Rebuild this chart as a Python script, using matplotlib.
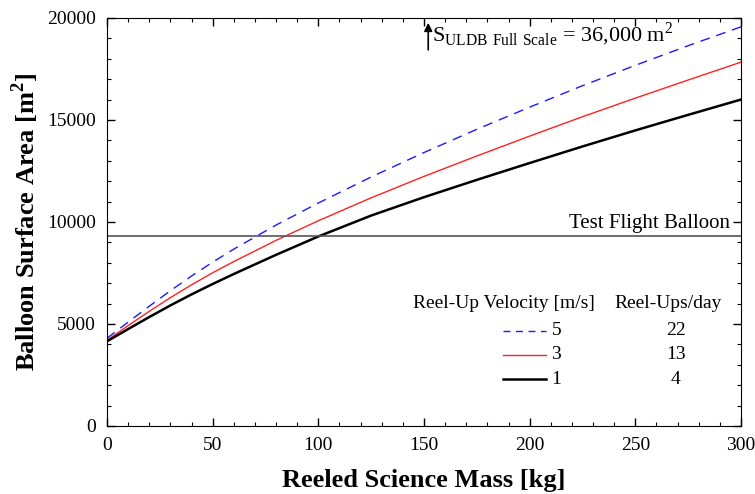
import matplotlib
matplotlib.use("Agg")
import matplotlib.pyplot as plt
from matplotlib.ticker import MultipleLocator
from matplotlib.lines import Line2D

plt.rcParams['font.family'] = ['Liberation Serif', 'DejaVu Serif']
plt.rcParams['mathtext.fontset'] = 'custom'
plt.rcParams['mathtext.rm'] = 'Liberation Serif'
plt.rcParams['mathtext.bf'] = 'Liberation Serif:bold'

# reeled science mass [kg]
mass = [0, 10, 20, 30, 40, 50, 60, 80, 100, 125, 150, 175, 200, 225, 250, 275, 300]
# balloon surface area [m^2] per reel-up velocity
area_v5 = [4300, 5090, 5870, 6630, 7350, 8030, 8670, 9850, 10930, 12205, 13405, 14543, 15630, 16680, 17680, 18642, 19567]
area_v3 = [4200, 4920, 5620, 6290, 6920, 7510, 8060, 9100, 10060, 11185, 12235, 13235, 14210, 15160, 16072, 16960, 17835]
area_v1 = [4150, 4750, 5340, 5910, 6450, 6960, 7450, 8390, 9290, 10315, 11215, 12065, 12890, 13702, 14490, 15252, 16002]

velocities = ["5", "3", "1"]
reelups = ["22", "13", "4"]
test_flight = 9300
full_scale_mass = 152

fig = plt.figure(figsize=(7.55, 4.94), dpi=100)
ax = fig.add_axes([0.1417, 0.1377, 0.8398, 0.8259])

l5, = ax.plot(mass, area_v5, color='#1a1aff', lw=1.0, dashes=(7, 5))
l3, = ax.plot(mass, area_v3, color='#ff2020', lw=1.0)
l1, = ax.plot(mass, area_v1, color='black', lw=1.8)

ax.axhline(test_flight, color='#555555', lw=1.2)
ax.text(295, test_flight + 150, 'Test Flight Balloon', ha='right', va='bottom', fontsize=15)

ax.annotate('', xy=(full_scale_mass, 19900), xytext=(full_scale_mass, 18300),
            arrowprops=dict(arrowstyle='-|>', color='black', lw=1.2, mutation_scale=12))
ax.text(full_scale_mass + 2, 18550, r'S$_{\mathrm{ULDB\ Full\ Scale}}$ = 36,000 m$^{2}$',
        ha='left', va='bottom', fontsize=16)

# legend drawn as a small table
ax.text(0.483, 0.301, 'Reel-Up Velocity [m/s]', transform=ax.transAxes, ha='left', va='center', fontsize=14)
ax.text(0.800, 0.301, 'Reel-Ups/day', transform=ax.transAxes, ha='left', va='center', fontsize=14)
rows_y = [0.233, 0.174, 0.115]
for line, vel, n, yy in zip([l5, l3, l1], velocities, reelups, rows_y):
    seg = Line2D([0.625, 0.692], [yy, yy], transform=ax.transAxes, color=line.get_color(),
                 lw=line.get_linewidth())
    if vel == "5":
        seg.set_dashes((5, 4))
    ax.add_line(seg)
    ax.text(0.701, yy, vel, transform=ax.transAxes, ha='left', va='center', fontsize=14)
    ax.text(0.897, yy, n, transform=ax.transAxes, ha='center', va='center', fontsize=14)

ax.set_xlim(0, 300)
ax.set_ylim(0, 20000)
ax.xaxis.set_major_locator(MultipleLocator(50))
ax.xaxis.set_minor_locator(MultipleLocator(10))
ax.yaxis.set_major_locator(MultipleLocator(5000))
ax.yaxis.set_minor_locator(MultipleLocator(1000))
ax.tick_params(which='both', direction='in', top=True, right=True, labelsize=14, pad=8)
ax.tick_params(which='major', length=6, width=1)
ax.tick_params(which='minor', length=3, width=0.8)

ax.set_xlabel('Reeled Science Mass [kg]', fontsize=19, fontweight='bold', labelpad=11)
ax.set_ylabel(r'Balloon Surface Area [m$^\mathbf{2}$]', fontsize=19, fontweight='bold', labelpad=4)

fig.savefig('out.png', dpi=100)
